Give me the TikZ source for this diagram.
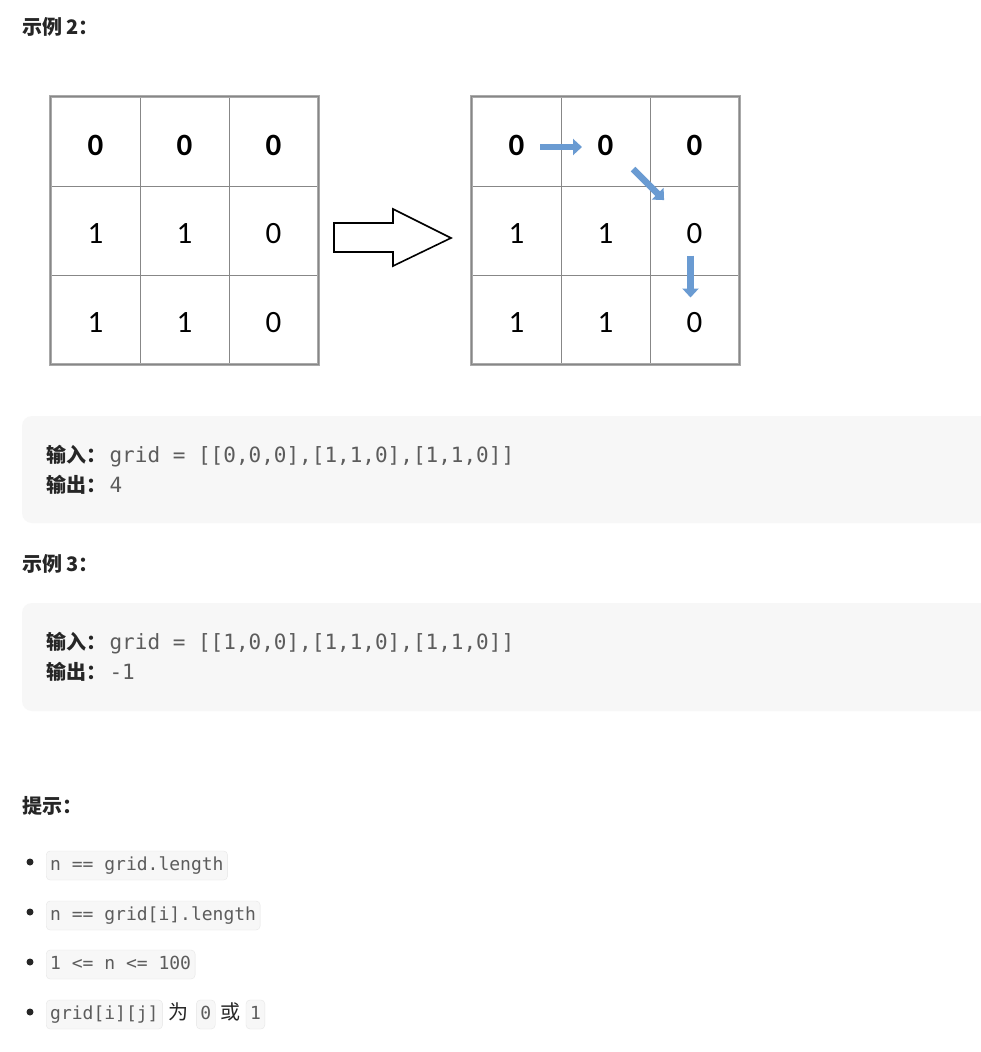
\documentclass[tikz,border=0pt]{standalone}
\usepackage{fontspec}
\usetikzlibrary{positioning,arrows.meta}
\newfontfamily\cjk{Noto Sans CJK SC}
\newfontfamily\monof{DejaVu Sans Mono}
\newfontfamily\digitf{Carlito}
\definecolor{lcblue}{RGB}{106,155,210}
\definecolor{lctext}{RGB}{38,38,38}
\definecolor{lccode}{RGB}{92,92,92}
\definecolor{lcbg}{RGB}{247,247,247}
\definecolor{lcline}{RGB}{230,230,230}
\definecolor{gridgray}{RGB}{135,135,135}
\definecolor{gridshade}{RGB}{170,170,170}

\begin{document}
\begin{tikzpicture}[x=1pt,y=-1pt]

%
% Styles
%
\tikzstyle{cell}     = [rectangle,draw=gridgray,line width=0.8pt,minimum size=89pt,inner sep=0pt]
\tikzstyle{digit}    = [inner sep=0pt,font=\digitf\fontsize{31}{31}\selectfont]
\tikzstyle{border}   = [draw=gridshade,line width=3.5pt]
\tikzstyle{flow}     = [-{Triangle[length=9pt,width=16pt]},draw=lcblue,line width=6.5pt]
\tikzstyle{heading}  = [anchor=base west,inner sep=0pt,text=lctext,font=\cjk\bfseries\fontsize{20}{24}\selectfont]
\tikzstyle{iolabel}  = [anchor=base west,inner sep=0pt,text=lctext,font=\cjk\bfseries\fontsize{20}{24}\selectfont]
\tikzstyle{code}     = [inner sep=0pt,text=lccode,font=\monof\fontsize{21}{24}\selectfont]
\tikzstyle{codebox}  = [fill=lcbg,rounded corners=10pt]
\tikzstyle{inline}   = [draw=lcline,fill=lcbg,rounded corners=4pt,text=lccode,font=\monof\fontsize{18}{18}\selectfont,inner xsep=4pt,inner ysep=6pt,text height=13pt,text depth=4pt]
\tikzstyle{plain}    = [inner sep=0pt,text=lctext,font=\cjk\fontsize{20}{24}\selectfont]
\tikzstyle{bullet}   = [circle,fill=lctext,inner sep=0pt,minimum size=7pt]

\fill[white] (0,0) rectangle (980,1052);
\useasboundingbox (0,0) rectangle (980,1052);

\node[heading] (ex2) at (22,34) {示例 2：};

% the two grids
\foreach \g/\x in {L/51,R/472}
  \foreach \r in {1,2,3}
    \foreach \c in {1,2,3} {
      \pgfmathtruncatemacro\v{(\r>1)*(\c<3)}
      \node[cell] (\g-\r-\c) at (\x+44.5+89*\c-89,97+44.5+89*\r-89) {};
      \node[digit] (\g-\r-\c-v) at ([yshift=-3.5pt]\g-\r-\c.center)
        {\ifnum\r=1 \bfseries\fi\v};
    }
\draw[border] (L-1-1.north west) rectangle (L-3-3.south east);
\draw[border] (R-1-1.north west) rectangle (R-3-3.south east);
\draw[gridgray,line width=0.8pt] (L-1-1.north west) rectangle (L-3-3.south east);
\draw[gridgray,line width=0.8pt] (R-1-1.north west) rectangle (R-3-3.south east);

% big hollow arrow
\draw[line width=1.6pt,fill=white,line join=miter]
  (334,223) -- (393,223) -- (393,209) -- (451,238) -- (393,266) -- (393,252) -- (334,252) -- cycle;

% path
\draw[flow,shorten <=23.5pt,shorten >=23.5pt] ([yshift=-5.5pt]R-1-1.center) -- ([yshift=-5.5pt]R-1-2.center);
\draw[flow,shorten <=39pt,shorten >=43pt] (R-1-2.center) -- (R-2-3.center);
\draw[flow,shorten <=25pt,shorten >=22pt] ([xshift=-4pt]R-2-3.center) -- ([xshift=-4pt]R-3-3.center);

% example 2 io
\path[codebox] (22,416) rectangle (1010,523);
\node[iolabel] (in2) at (46,462) {输入：};
\node[code,base right=3pt of in2] (in2val) {grid = [[0,0,0],[1,1,0],[1,1,0]]};
\node[iolabel] (out2) at (46,492) {输出：};
\node[code,base right=3pt of out2] (out2val) {4};

% example 3
\node[heading] (ex3) at (22,571) {示例 3：};
\path[codebox] (22,603) rectangle (1010,711);
\node[iolabel] (in3) at (46,649) {输入：};
\node[code,base right=3pt of in3] (in3val) {grid = [[1,0,0],[1,1,0],[1,1,0]]};
\node[iolabel] (out3) at (46,679) {输出：};
\node[code,base right=3pt of out3] (out3val) {-1};

% hints
\node[heading] (hint) at (22,813) {提示：};
\foreach \i/\y in {1/862,2/912,3/962,4/1012}
  \node[bullet] (b\i) at (30,\y) {};
\node[inline,anchor=base west] (h1) at (46,870) {n == grid.length};
\node[inline,anchor=base west] (h2) at (46,920) {n == grid[i].length};
\node[inline,anchor=base west] (h3) at (46,969) {1 <= n <= 100};
\node[inline,anchor=base west] (h4) at (46,1019) {grid[i][j]};
\node[plain,base right=6pt of h4] (wei) {为};
\node[inline,base right=7pt of wei] (zero) {0};
\node[plain,base right=5pt of zero] (huo) {或};
\node[inline,base right=5pt of huo] (one) {1};

\end{tikzpicture}
\end{document}
